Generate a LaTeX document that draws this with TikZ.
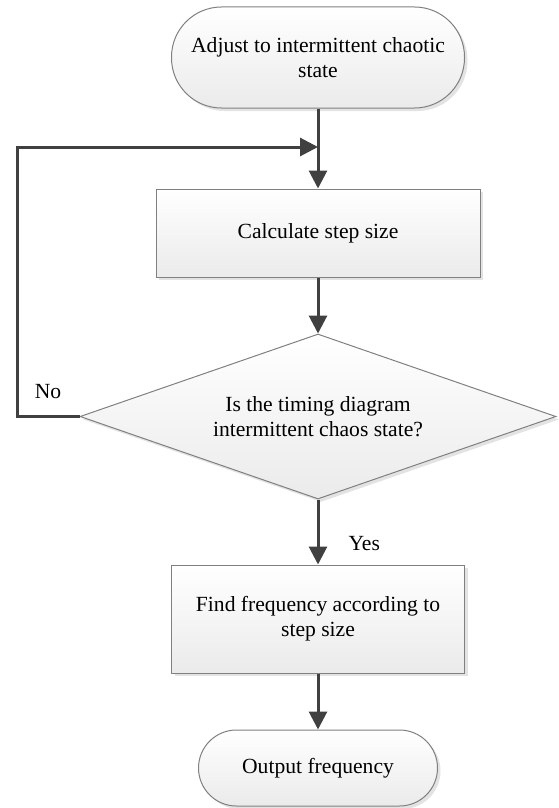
\documentclass[tikz,border=0pt]{standalone}
\usepackage{fontspec}
\setmainfont{Liberation Serif}
\usetikzlibrary{shapes.geometric,shadows,arrows.meta}
\definecolor{edgec}{RGB}{128,128,128}
\definecolor{arrc}{RGB}{64,64,64}
\begin{document}
\begin{tikzpicture}[x=1pt,y=1pt,
  font=\fontsize{21.6}{25}\selectfont,
  shapebase/.style={draw=edgec, line width=1pt, top color=white, bottom color=black!8,
    drop shadow={shadow xshift=3pt,shadow yshift=-3pt,fill=black!22},
    align=center, inner sep=0pt},
  term/.style={shapebase, rectangle},
  procbox/.style={shapebase, rectangle},
  decision/.style={shapebase, diamond, aspect=2.88},
  arr/.style={draw=arrc, line width=3pt, -{Triangle[length=18pt,width=18pt]}, line join=miter}]
\useasboundingbox (0,0) rectangle (558,-808);
\node[term, rounded corners=50pt, minimum width=293pt, minimum height=101pt] (start) at (318,-57.5)
  {Adjust to intermittent chaotic\\state};
\node[procbox, minimum width=324pt, minimum height=88pt] (calc) at (318,-233) {Calculate step size};
\node[decision, minimum width=476pt, minimum height=165pt] (dec) at (318,-416.5)
  {Is the timing diagram\\intermittent chaos state?};
\node[procbox, minimum width=293pt, minimum height=108pt] (find) at (318,-619)
  {Find frequency according to\\step size};
\node[term, rounded corners=38pt, minimum width=239pt, minimum height=76pt] (stop) at (318,-768)
  {Output frequency};
\node[anchor=base] (nolab) at (48,-398) {No};
\node[anchor=base west] (yeslab) at (345,-550) {Yes};
\coordinate (j) at (318,-147);
\coordinate (lx) at (17,-147);
\draw[arr] (start) -- (calc);
\draw[arr] (calc) -- (dec);
\draw[arr] (dec) -- (find);
\draw[arr] (find) -- (stop);
\draw[arr] (dec.west) -| (lx) -- (j);
\end{tikzpicture}
\end{document}
